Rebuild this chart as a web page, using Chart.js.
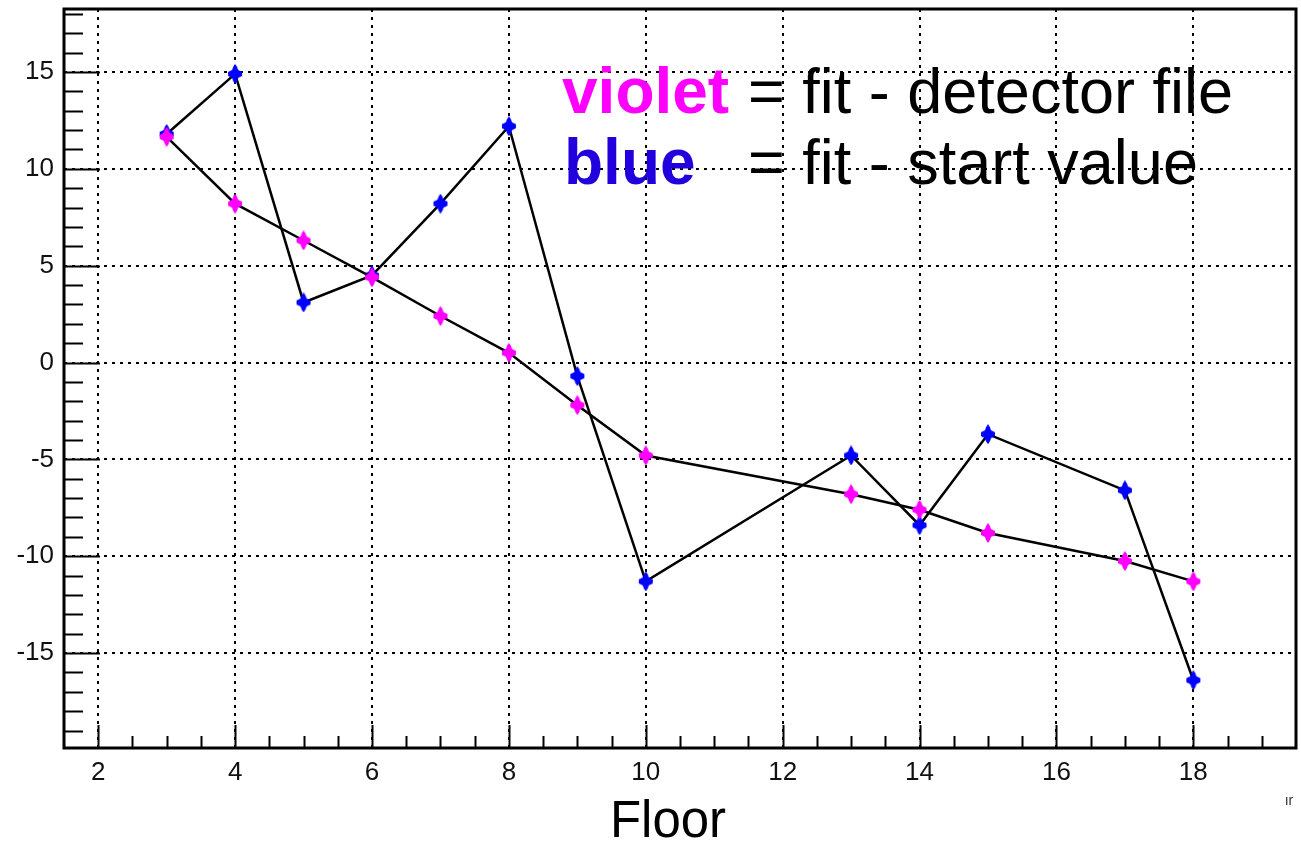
<!DOCTYPE html>
<html>
<head>
<meta charset="utf-8">
<script src="https://cdn.jsdelivr.net/npm/chart.js@4"></script>
<style>
  html, body { margin: 0; padding: 0; background: #fff; overflow: hidden; }
  #wrap { width: 1301px; height: 845px; }
  canvas { display: block; }
</style>
</head>
<body>
<div id="wrap"><canvas id="grafico" width="1301" height="845"></canvas></div>
<script>
// dados
const floors = [3, 4, 5, 6, 7, 8, 9, 10, 13, 14, 15, 17, 18];
const violetValues = [11.65, 8.2, 6.3, 4.4, 2.4, 0.5, -2.2, -4.8, -6.8, -7.6, -8.8, -10.25, -11.3];
const blueValues = [11.8, 14.9, 3.1, 4.5, 8.2, 12.2, -0.7, -11.3, -4.8, -8.4, -3.7, -6.6, -16.4];
const xTickValues = [2, 4, 6, 8, 10, 12, 14, 16, 18];
const yTickValues = [-15, -10, -5, 0, 5, 10, 15];

const xMin = 1.5, xMax = 19.5;
const yMin = -19.9, yMax = 18.25;

function pontos(valores) {
  return floors.map((f, i) => ({ x: f, y: valores[i] }));
}

// marcador em estrela de 4 pontas, como no original
function marcador(cor) {
  const c = document.createElement('canvas');
  c.width = 16;
  c.height = 20;
  const g = c.getContext('2d');
  const pts = [[8,0],[10,3],[11,6],[15,8],[15,12],[11,14],[10,17],[8,20],[6,17],[5,14],[1,12],[1,8],[5,6],[6,3]];
  g.fillStyle = cor;
  g.beginPath();
  pts.forEach((p, i) => i ? g.lineTo(p[0], p[1]) : g.moveTo(p[0], p[1]));
  g.closePath();
  g.fill();
  return c;
}

// moldura, marcas menores e textos
const extras = {
  id: 'extras',
  afterDatasetsDraw(chart) {
    const ctx = chart.ctx;
    const area = chart.chartArea;
    const sx = chart.scales.x;
    const sy = chart.scales.y;
    ctx.save();
    ctx.strokeStyle = '#000';
    ctx.lineWidth = 2;
    ctx.setLineDash([]);
    // marcas no eixo y
    for (let v = -19; v <= 18; v++) {
      const y = Math.round(sy.getPixelForValue(v)) + 0.5;
      const len = (v % 5 === 0) ? 36 : 19;
      ctx.beginPath();
      ctx.moveTo(area.left, y);
      ctx.lineTo(area.left + len, y);
      ctx.stroke();
    }
    // marcas no eixo x
    for (let v = 2; v <= 19; v += 0.5) {
      const x = Math.round(sx.getPixelForValue(v)) + 0.5;
      const len = (v % 2 === 0) ? 23 : 12;
      ctx.beginPath();
      ctx.moveTo(x, area.bottom);
      ctx.lineTo(x, area.bottom - len);
      ctx.stroke();
    }
    // moldura
    ctx.lineWidth = 3;
    ctx.strokeRect(area.left, area.top, area.right - area.left, area.bottom - area.top);

    // legenda em texto
    ctx.textBaseline = 'alphabetic';
    ctx.textAlign = 'left';
    ctx.font = 'bold 64px "Liberation Sans", Arial, sans-serif';
    ctx.fillStyle = '#ff00ff';
    ctx.fillText('violet', 562, 113);
    ctx.fillStyle = '#2200dd';
    ctx.fillText('blue', 564, 184);
    ctx.font = '63px "Liberation Sans", Arial, sans-serif';
    ctx.fillStyle = '#000';
    ctx.fillText('= fit - detector file', 748, 113);
    ctx.fillText('= fit - start value', 748, 184);

    // titulo do eixo x
    ctx.textAlign = 'center';
    ctx.font = '51px "Liberation Sans", Arial, sans-serif';
    ctx.fillText('Floor', 668, 837);
    ctx.font = '14px "Liberation Sans", Arial, sans-serif';
    ctx.fillStyle = '#333';
    ctx.fillText('ır', 1289, 805);
    ctx.restore();
  }
};

const ctx = document.getElementById('grafico').getContext('2d');

new Chart(ctx, {
  type: 'scatter',
  data: {
    datasets: [
      {
        label: 'violet',
        data: pontos(violetValues),
        showLine: true,
        borderColor: '#000',
        borderWidth: 2.5,
        pointStyle: marcador('#ff00ff'),
        pointRadius: 8
      },
      {
        label: 'blue',
        data: pontos(blueValues),
        showLine: true,
        borderColor: '#000',
        borderWidth: 2.5,
        pointStyle: marcador('#0000ff'),
        pointRadius: 8
      }
    ]
  },
  options: {
    responsive: false,
    animation: false,
    layout: { autoPadding: false, padding: { left: 0, top: 9, right: 5, bottom: 0 } },
    plugins: {
      legend: { display: false },
      tooltip: { enabled: false }
    },
    scales: {
      x: {
        type: 'linear',
        min: xMin,
        max: xMax,
        afterBuildTicks: (scale) => { scale.ticks = xTickValues.map(v => ({ value: v })); },
        afterFit: (scale) => {
          scale.height = 97;
          scale.paddingLeft = 0;
          scale.paddingRight = 0;
        },
        grid: { color: '#000', lineWidth: 2, drawTicks: false },
        border: { display: false, dash: [3, 5] },
        ticks: {
          padding: 9,
          color: '#111',
          maxRotation: 0,
          font: { family: '"Liberation Sans", Arial, sans-serif', size: 26 }
        }
      },
      y: {
        type: 'linear',
        min: yMin,
        max: yMax,
        afterBuildTicks: (scale) => { scale.ticks = yTickValues.map(v => ({ value: v })); },
        afterFit: (scale) => {
          scale.width = 64;
          scale.paddingTop = 0;
          scale.paddingBottom = 0;
        },
        grid: { color: '#000', lineWidth: 2, drawTicks: false },
        border: { display: false, dash: [3, 5] },
        ticks: {
          padding: 10,
          color: '#111',
          font: { family: '"Liberation Sans", Arial, sans-serif', size: 26 }
        }
      }
    }
  },
  plugins: [extras]
});
</script>
</body>
</html>
